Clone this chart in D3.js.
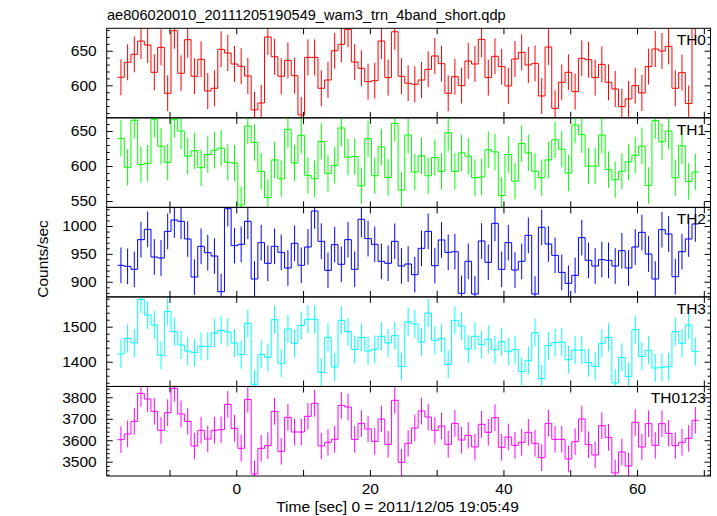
<!DOCTYPE html>
<html>
<head>
<meta charset="utf-8">
<script src="https://cdn.jsdelivr.net/npm/d3@7"></script>
<style>
  html, body { margin: 0; padding: 0; background: #ffffff; }
  svg text { font-family: "Liberation Sans", Arial, Helvetica, sans-serif; }
</style>
</head>
<body>
<svg id="chart" width="717" height="516"></svg>
<script>
// ---------------- data ----------------
const title = "ae806020010_20111205190549_wam3_trn_4band_short.qdp";
const xLabel = "Time [sec] 0 = 2011/12/05 19:05:49";
const yLabel = "Counts/sec";
const bandNames = ["TH0", "TH1", "TH2", "TH3", "TH0123"];
const bandColors = ["#ff0000", "#00ff00", "#0000ff", "#00ffff", "#ff00ff"];

// time bins (sec): first bin start and bin width
const binStart = -17.77;
const binWidth = 1.0;

const th0 = [611.6, 633.3, 644.8, 664, 658.2, 618.8, 654.9, 588.5, 678.9, 617.4,
  665.9, 613.1, 637.6, 591.8, 595.7, 652, 646.7, 630.8, 627.5, 613.5,
  564.4, 574.5, 669.8, 641.3, 613.1, 636.1, 613.9, 557.2, 640.4, 640.4,
  595.7, 607.7, 650, 659.2, 680.9, 633.7, 624.6, 605.3, 606.7, 664,
  611.1, 677.4, 613.1, 603, 601.5, 607.7, 623.1, 642.4, 631.3, 588.5,
  612.5, 599.5, 635.1, 630.8, 666.4, 611.1, 641.9, 627, 599.1, 638,
  647.6, 629.4, 631.8, 584.6, 655.3, 566.8, 604.4, 618.8, 590.9, 639,
  637.1, 611.1, 630.3, 604.4, 594.7, 569.2, 580.3, 599.5, 589, 627,
  652.5, 649.6, 656.3, 595.7, 618.3, 573.6, 690];

const th1 = [639.4, 598.1, 665.4, 602, 603.9, 666.8, 628.4, 605.3, 666.8, 650,
  614, 621.7, 597.6, 616.4, 622.6, 625.5, 605.3, 604.4, 544.3, 657.2,
  633.7, 592.4, 554.9, 608.7, 581.8, 652.4, 604.4, 643.8, 586.6, 581.8,
  635.1, 589.5, 601, 654.3, 612.5, 613.5, 571.7, 639, 586.1, 627.4,
  583.7, 661, 565.5, 644.2, 591.4, 614.5, 586.1, 612.1, 592.4, 647.6,
  592.4, 618.8, 614, 583.2, 584.2, 623.1, 620.2, 557.8, 616.4, 578.4,
  632.2, 618.8, 592.4, 583.2, 608.7, 637.5, 624.1, 590, 658.6, 644.7,
  600, 600, 644.2, 594.8, 580.4, 592.4, 605.8, 615.4, 628.4, 572.2,
  664.9, 634.6, 650, 583.2, 628.9, 578, 591.4];

const th2 = [929.4, 927.6, 922.2, 975.5, 994, 944.3, 942.5, 990.4, 1010.8, 1008.4,
  976.7, 908.4, 963.5, 952.1, 946.1, 882.1, 1031.1, 964.7, 967.1, 1008.4,
  904.8, 970.1, 933, 963.5, 952.7, 924.6, 968.9, 929.4, 962.3, 1026.9,
  972.5, 920.4, 966.5, 931.2, 975.5, 922.2, 1012, 977.3, 967.1, 936.6,
  933, 972.5, 928.2, 931.8, 912.6, 959.9, 990.4, 928.8, 974.9, 952.7,
  953.9, 879.1, 936.6, 877.9, 973.1, 934.8, 1004.8, 922.2, 970.1, 921,
  936.6, 983.2, 877.9, 997.6, 967.7, 947.3, 916.8, 897.1, 911.4, 979.1,
  938.4, 928.2, 939.6, 938.4, 928.2, 955.7, 924.6, 962.3, 988.6, 949.7,
  904.8, 993.4, 985.6, 909, 953.9, 976.7, 1003.6];

const th3 = [1422, 1466.8, 1453.4, 1578.2, 1533.4, 1504.9, 1418.2, 1543.9, 1485.8, 1447.7,
  1430.6, 1425.8, 1443.9, 1443.9, 1482, 1489.6, 1484.9, 1453.4, 1420.1, 1509.6,
  1335.3, 1421.1, 1412.5, 1520.1, 1395.3, 1493.4, 1452.5, 1503.9, 1521.1, 1521.1,
  1369.6, 1469.6, 1384.9, 1518.2, 1485.8, 1435.3, 1469.6, 1430.6, 1435.3, 1472.5,
  1453.4, 1474.4, 1385.8, 1514.4, 1507.7, 1456.3, 1539.1, 1461.1, 1466.8, 1392.5,
  1518.2, 1502, 1436.3, 1472.5, 1448.7, 1463.9, 1434.4, 1457.2, 1428.7, 1434.4,
  1371.5, 1403, 1483, 1351.5, 1445.8, 1454.4, 1456.3, 1405.8, 1433.4, 1433.4,
  1397.2, 1386.8, 1452.5, 1469.6, 1339.1, 1412.5, 1357.2, 1491.5, 1415.3, 1432.5,
  1382, 1383.9, 1385.8, 1485.8, 1452.5, 1504.9, 1428.7];

const th0123 = [3602.7, 3629.1, 3688.1, 3818.5, 3792.1, 3734.6, 3646.1, 3728.4, 3841.8, 3722.2,
  3688.1, 3573.2, 3646.1, 3605.8, 3646.1, 3649.2, 3767.2, 3655.5, 3562.3, 3790.5,
  3442.8, 3562.3, 3574.7, 3734.6, 3548.3, 3706.7, 3638.4, 3638.4, 3711.3, 3771.9,
  3573.2, 3590.2, 3604.2, 3762.6, 3754.8, 3604.2, 3678.7, 3652.4, 3594.9, 3698.9,
  3580.9, 3785.9, 3497.1, 3585.6, 3657, 3736.2, 3708.2, 3646.1, 3666.3, 3580.9,
  3678.7, 3601.1, 3622.9, 3568.5, 3674.1, 3636.8, 3705.1, 3567, 3615.1, 3576.3,
  3590.2, 3636.8, 3585.6, 3518.8, 3678.7, 3604.2, 3604.2, 3512.6, 3593.3, 3698.9,
  3579.4, 3531.3, 3667.9, 3613.5, 3447.4, 3545.2, 3480, 3683.4, 3568.5, 3677.2,
  3576.3, 3677.2, 3632.2, 3574.7, 3590.2, 3608.9, 3692.7];

// typical 1-sigma error per band (counts/sec)
const bandErrors = [26, 26, 32, 40, 62];

// axis ranges and ticks
const xDomain = [-19.4, 71.0];
const xTicks = [-10, 0, 10, 20, 30, 40, 50, 60, 70];
const xTickLabels = [0, 20, 40, 60];
const yDomains = [[553, 682.4], [540.9, 668.8], [872.7, 1033.4], [1329.3, 1585.1], [3433.4, 3850.5]];
const yMajorTicks = [[600, 650], [550, 600, 650], [900, 950, 1000], [1400, 1500], [3500, 3600, 3700, 3800]];
const yMinorSteps = [10, 10, 10, 20, 20];

const series = [th0, th1, th2, th3, th0123];

// ---------------- layout ----------------
const plotLeft = 106.7, plotRight = 710.5, plotTop = 28.3, plotBottom = 476;
const nP = series.length;
const pH = (plotBottom - plotTop) / nP;
const fontSize = 15.5;
const FONT = '"Liberation Sans", Arial, Helvetica, sans-serif';

const svg = d3.select("#chart");
const x = d3.scaleLinear().domain(xDomain).range([plotLeft, plotRight]);
const fmt = d3.format("d");

series.forEach((vals, p) => {
  const y0 = plotTop + p * pH, y1 = y0 + pH;
  const y = d3.scaleLinear().domain(yDomains[p]).range([y1, y0]);
  const color = bandColors[p];
  const err = bandErrors[p];
  const g = svg.append("g");

  const clipId = "clip" + p;
  svg.append("clipPath").attr("id", clipId)
    .append("rect").attr("x", plotLeft).attr("y", y0).attr("width", plotRight - plotLeft).attr("height", pH);

  const data = vals.map((v, i) => ({
    t0: binStart + i * binWidth,
    t1: binStart + (i + 1) * binWidth,
    tc: binStart + (i + 0.5) * binWidth,
    v: v
  }));

  const dg = g.append("g").attr("clip-path", `url(#${clipId})`);

  // error bars
  dg.selectAll("line.err").data(data).enter().append("line")
    .attr("class", "err")
    .attr("x1", d => x(d.tc)).attr("x2", d => x(d.tc))
    .attr("y1", d => y(d.v - err)).attr("y2", d => y(d.v + err))
    .attr("stroke", color).attr("stroke-width", 1);

  // step histogram
  const pts = [];
  data.forEach(d => { pts.push([d.t0, d.v]); pts.push([d.t1, d.v]); });
  const line = d3.line().x(d => x(d[0])).y(d => y(d[1]));
  dg.append("path").attr("d", line(pts))
    .attr("fill", "none").attr("stroke", color).attr("stroke-width", 1);

  // y axes (major + minor, left and right, ticks inward)
  const [dmin, dmax] = yDomains[p];
  const step = yMinorSteps[p];
  const minor = d3.range(Math.ceil(dmin / step) * step, dmax, step)
    .filter(v => !yMajorTicks[p].includes(v));

  const axL = g.append("g").attr("transform", `translate(${plotLeft},0)`)
    .call(d3.axisLeft(y).tickValues(yMajorTicks[p]).tickSize(-6).tickPadding(10).tickFormat(fmt));
  const axLm = g.append("g").attr("transform", `translate(${plotLeft},0)`)
    .call(d3.axisLeft(y).tickValues(minor).tickSize(-3).tickFormat(""));
  const axR = g.append("g").attr("transform", `translate(${plotRight},0)`)
    .call(d3.axisRight(y).tickValues(yMajorTicks[p]).tickSize(-6).tickFormat(""));
  const axRm = g.append("g").attr("transform", `translate(${plotRight},0)`)
    .call(d3.axisRight(y).tickValues(minor).tickSize(-3).tickFormat(""));

  // x axes (top and bottom of each panel)
  const axT = g.append("g").attr("transform", `translate(0,${y0})`)
    .call(d3.axisTop(x).tickValues(xTicks).tickSize(-6).tickFormat(""));
  const axB = g.append("g").attr("transform", `translate(0,${y1})`)
    .call(d3.axisBottom(x).tickValues(xTicks).tickSize(-6).tickPadding(6.5)
      .tickFormat(d => (p === nP - 1 && xTickLabels.includes(d)) ? fmt(d) : ""));

  [axL, axLm, axR, axRm, axT, axB].forEach(a => {
    a.select(".domain").remove();
    a.selectAll(".tick line").attr("stroke", "#000").attr("stroke-width", 1);
    a.selectAll(".tick text").attr("fill", "#000")
      .style("font-size", fontSize + "px")
      .style("font-family", FONT);
  });

  // frame
  g.append("rect").attr("x", plotLeft).attr("y", y0).attr("width", plotRight - plotLeft).attr("height", pH)
    .attr("fill", "none").attr("stroke", "#000").attr("stroke-width", 1);

  // band label
  g.append("text").attr("x", 706).attr("y", y0 + 17)
    .attr("text-anchor", "end").style("font-size", fontSize + "px")
    .style("font-family", FONT).attr("fill", "#000")
    .text(bandNames[p]);
});

// title
svg.append("text").attr("x", 107).attr("y", 20)
  .style("font-size", "14.6px").style("font-family", FONT).attr("fill", "#000").text(title);

// x label
svg.append("text").attr("x", 397.5).attr("y", 512)
  .attr("text-anchor", "middle").style("font-size", fontSize + "px")
  .style("font-family", FONT).attr("fill", "#000").text(xLabel);

// y label (centred on y = 259, baseline at x = 48)
const yl = svg.append("text")
  .attr("text-anchor", "start").style("font-size", fontSize + "px")
  .style("font-family", FONT).attr("fill", "#000").text(yLabel);
const yLen = yl.node().getComputedTextLength();
yl.attr("transform", `translate(48,${259 + yLen / 2}) rotate(-90)`);
</script>
</body>
</html>
